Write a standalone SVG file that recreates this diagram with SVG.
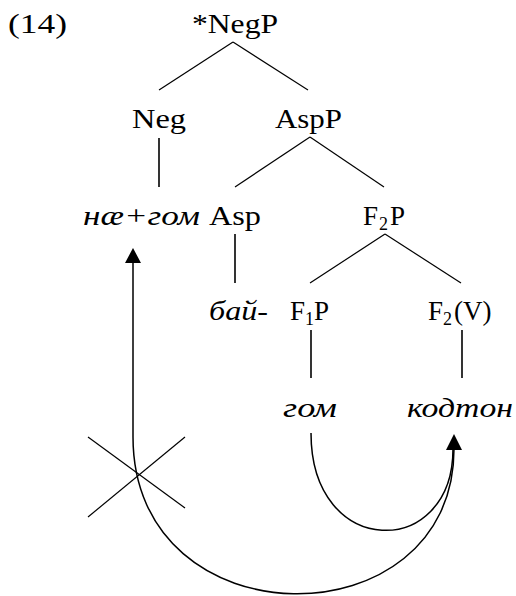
<svg xmlns="http://www.w3.org/2000/svg" width="516" height="596" viewBox="0 0 516 596">
<style>
text{font-family:"Liberation Serif","DejaVu Serif",serif;font-size:27px;fill:#000}
.it{font-style:italic}
.sb{font-size:18px}
.ed{stroke:#000;stroke-width:1.2;fill:none}
.vl{stroke:#000;stroke-width:1.6;fill:none}
.cv{stroke:#000;stroke-width:1.5;fill:none}
</style>
<rect width="516" height="596" fill="#fff"/>
<text x="8" y="33" textLength="59" lengthAdjust="spacingAndGlyphs">(14)</text>
<g id="connectors">
<line class="ed" x1="233" y1="42" x2="159" y2="90"/>
<line class="ed" x1="233" y1="42" x2="308" y2="90"/>
<line class="vl" x1="159" y1="138" x2="159" y2="187"/>
<line class="ed" x1="310" y1="137" x2="235" y2="187"/>
<line class="ed" x1="310" y1="137" x2="384" y2="187"/>
<line class="vl" x1="235" y1="234" x2="235" y2="283"/>
<line class="ed" x1="385" y1="234" x2="310" y2="283"/>
<line class="ed" x1="385" y1="234" x2="461" y2="283"/>
<line class="vl" x1="311" y1="330" x2="311" y2="378"/>
<line class="vl" x1="462" y1="330" x2="462" y2="378"/>
<path class="cv" d="M133,262 L133,437 C133,644 454,644 454,449"/>
<polygon points="133,248 125,263 141,263"/>
<path class="cv" d="M311,433 C311,560 453,560 453,449"/>
<polygon points="454,434 446,450 462,450"/>
<line class="ed" x1="88" y1="437" x2="185" y2="508"/>
<line class="ed" x1="185" y1="437" x2="88" y2="517"/>
</g>
<g id="negp"><text x="192" y="33" textLength="86" lengthAdjust="spacingAndGlyphs">*NegP</text></g>
<g id="neg"><text x="132" y="128" textLength="54" lengthAdjust="spacingAndGlyphs">Neg</text></g>
<g id="aspp"><text x="275" y="128" textLength="67" lengthAdjust="spacingAndGlyphs">AspP</text></g>
<g id="nae-gom"><text class="it" x="83" y="225" textLength="117" lengthAdjust="spacingAndGlyphs">нæ+гом</text></g>
<g id="asp"><text x="209" y="225" textLength="52" lengthAdjust="spacingAndGlyphs">Asp</text></g>
<g id="f2p"><text x="363" y="225">F</text><text class="sb" x="379" y="230">2</text><text x="390" y="225">P</text></g>
<g id="bai"><text class="it" x="209" y="320" textLength="59" lengthAdjust="spacingAndGlyphs">бай-</text></g>
<g id="f1p"><text x="290" y="320">F</text><text class="sb" x="305" y="325">1</text><text x="314" y="320">P</text></g>
<g id="f2v"><text x="428" y="320">F</text><text class="sb" x="443" y="325">2</text><text x="454" y="320">(V)</text></g>
<g id="gom"><text class="it" x="283" y="417" textLength="54" lengthAdjust="spacingAndGlyphs">гом</text></g>
<g id="kodton"><text class="it" x="407" y="417" textLength="106" lengthAdjust="spacingAndGlyphs">кодтон</text></g>
</svg>
